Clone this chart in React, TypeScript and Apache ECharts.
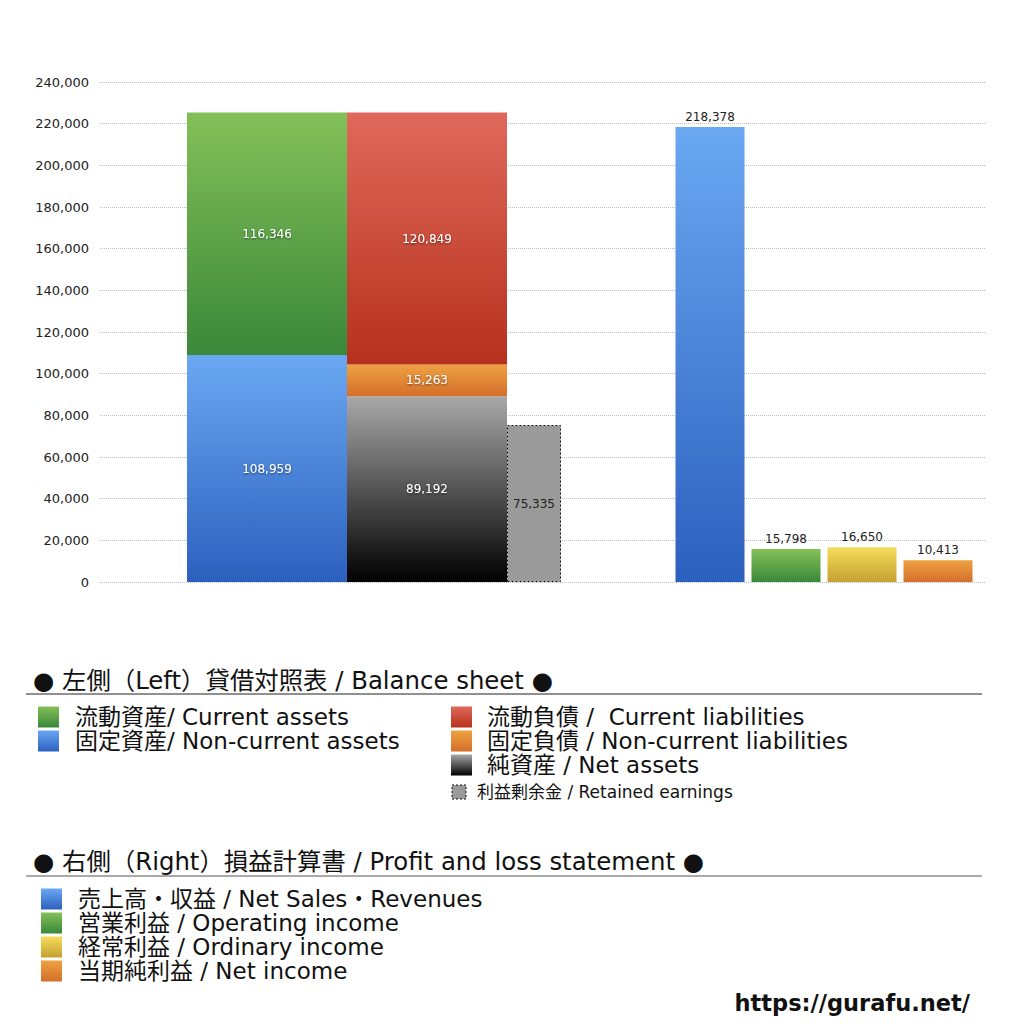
import React, { useEffect, useRef } from 'react';
import * as echarts from 'echarts';

const FONT = '"DejaVu Sans", "Noto Sans CJK JP", sans-serif';

// Left: balance sheet (stacked columns)
const bsSeriesNames = [
  '固定資産/ Non-current assets',
  '流動資産/ Current assets',
  '純資産 / Net assets',
  '固定負債 / Non-current liabilities',
  '流動負債 / Current liabilities',
  '利益剰余金 / Retained earnings',
];
const bsValues = [108959, 116346, 89192, 15263, 120849, 75335];
const bsStacks = ['assets', 'assets', 'liabilities', 'liabilities', 'liabilities', 'retained'];

// Right: profit and loss
const plCategories = ['売上高・収益', '営業利益', '経常利益', '当期純利益'];
const plValues = [218378, 15798, 16650, 10413];

// Legend texts
const bsLegendLeft = ['流動資産/ Current assets', '固定資産/ Non-current assets'];
const bsLegendRight = ['流動負債 /  Current liabilities', '固定負債 / Non-current liabilities', '純資産 / Net assets'];
const retainedLegend = '利益剰余金 / Retained earnings';
const plLegend = [
  '売上高・収益 / Net Sales・Revenues',
  '営業利益 / Operating income',
  '経常利益 / Ordinary income',
  '当期純利益 / Net income',
];
const bsTitle = '● 左側（Left）貸借対照表 / Balance sheet ●';
const plTitle = '● 右側（Right）損益計算書 / Profit and loss statement ●';
const siteUrl = 'https://gurafu.net/';

// gradient colour pairs (top, bottom)
const BLUE: [string, string] = ['#6aa8f2', '#2c60be'];
const GREEN: [string, string] = ['#84c058', '#3a883a'];
const RED: [string, string] = ['#e0695b', '#b6311c'];
const ORANGE: [string, string] = ['#eea242', '#d46e2a'];
const BLACK: [string, string] = ['#a8a8a8', '#000000'];
const YELLOW: [string, string] = ['#f5dc5a', '#c6a032'];

const bsColors = [BLUE, GREEN, BLACK, ORANGE, RED, null];
const plColors = [BLUE, GREEN, YELLOW, ORANGE];

const grad = (c: [string, string]) =>
  new echarts.graphic.LinearGradient(0, 0, 0, 1, [
    { offset: 0, color: c[0] },
    { offset: 1, color: c[1] },
  ]);

const fmt = (v: number) => v.toLocaleString('en-US');

const App: React.FC = () => {
  const chartRef = useRef<HTMLDivElement>(null);

  useEffect(() => {
    if (!chartRef.current) return;
    const chart = echarts.init(chartRef.current, undefined, { renderer: 'svg' });

    const hiddenY = (gridIndex: number) => ({
      gridIndex,
      type: 'value',
      min: 0,
      max: 240000,
      show: false,
      splitLine: { show: false },
    });

    const bsSeries = bsValues.map((v, i) => {
      const retained = bsColors[i] === null;
      return {
        name: bsSeriesNames[i],
        type: 'bar',
        xAxisIndex: 1,
        yAxisIndex: 1,
        stack: bsStacks[i],
        barWidth: retained ? 54 : 160,
        barGap: '0%',
        data: [v],
        itemStyle: retained
          ? { color: '#9a9a9a', borderColor: '#111', borderWidth: 1, borderType: [2, 2] }
          : { color: grad(bsColors[i] as [string, string]) },
        label: {
          show: true,
          position: 'inside',
          formatter: (p: any) => fmt(p.value),
          fontFamily: FONT,
          fontSize: 12,
          color: retained ? '#222' : '#fff',
          textBorderWidth: 0,
          textShadowColor: retained ? 'transparent' : 'rgba(0,0,0,0.55)',
          textShadowBlur: retained ? 0 : 2,
          textShadowOffsetY: retained ? 0 : 1,
        },
      };
    });

    const plSeries = {
      name: '損益計算書',
      type: 'bar',
      xAxisIndex: 2,
      yAxisIndex: 2,
      barWidth: 69,
      data: plValues.map((v, i) => ({ value: v, itemStyle: { color: grad(plColors[i]) } })),
      label: {
        show: true,
        position: 'top',
        distance: 4,
        formatter: (p: any) => fmt(p.value),
        fontFamily: FONT,
        fontSize: 12,
        color: '#222',
      },
    };

    // custom legend
    const graphics: any[] = [];
    const text = (x: number, y: number, t: string, size: number, extra: any = {}) => ({
      type: 'text',
      x,
      y,
      style: {
        text: t,
        fontSize: size,
        lineHeight: Math.min(size, 23),
        fontFamily: FONT,
        fill: '#111',
        textVerticalAlign: 'middle',
        ...extra,
      },
    });
    const swatch = (x: number, y: number, s: number, c: [string, string]) => ({
      type: 'rect',
      shape: { x, y: y - s / 2, width: s, height: s },
      style: { fill: grad(c) },
    });

    graphics.push(text(33, 680, bsTitle, 24.4));
    graphics.push({ type: 'line', shape: { x1: 26, y1: 694, x2: 982, y2: 694 }, style: { stroke: '#222', lineWidth: 1 } });
    bsLegendLeft.forEach((t, i) => {
      graphics.push(swatch(38, 717 + i * 24, 21, i === 0 ? GREEN : BLUE));
      graphics.push(text(75, 717 + i * 24, t, 23));
    });
    bsLegendRight.forEach((t, i) => {
      graphics.push(swatch(451, 717 + i * 24, 21, [RED, ORANGE, BLACK][i]));
      graphics.push(text(487, 717 + i * 24, t, 23));
    });
    graphics.push({
      type: 'rect',
      shape: { x: 452, y: 785, width: 14, height: 14 },
      style: { fill: '#9a9a9a', stroke: '#111', lineWidth: 1, lineDash: [2, 2] },
    });
    graphics.push(text(477, 792, retainedLegend, 17));

    graphics.push(text(33, 861, plTitle, 24.4));
    graphics.push({ type: 'line', shape: { x1: 26, y1: 876, x2: 982, y2: 876 }, style: { stroke: '#555', lineWidth: 1 } });
    plLegend.forEach((t, i) => {
      graphics.push(swatch(41, 899 + i * 24, 21, plColors[i]));
      graphics.push(text(78, 899 + i * 24, t, 23));
    });
    graphics.push(text(970, 1003, siteUrl, 22.5, { fontWeight: 'bold', textAlign: 'right' }));

    chart.setOption({
      animation: false,
      backgroundColor: '#fff',
      textStyle: { fontFamily: FONT },
      grid: [
        { left: 100, top: 82, width: 885, height: 500 },
        { left: 187, top: 82, width: 374, height: 500 },
        { left: 672, top: 82, width: 304, height: 500 },
      ],
      xAxis: [
        { gridIndex: 0, type: 'category', data: [''], show: false },
        { gridIndex: 1, type: 'category', data: ['貸借対照表'], show: false },
        { gridIndex: 2, type: 'category', data: plCategories, show: false },
      ],
      yAxis: [
        {
          gridIndex: 0,
          type: 'value',
          min: 0,
          max: 240000,
          interval: 20000,
          axisLine: { show: false },
          axisTick: { show: false },
          axisLabel: {
            formatter: (v: number) => fmt(v),
            fontFamily: FONT,
            fontSize: 13,
            color: '#222',
            margin: 11,
          },
          splitLine: { lineStyle: { type: 'dotted', color: '#bdbdbd', width: 1 } },
        },
        hiddenY(1),
        hiddenY(2),
      ],
      series: [...bsSeries, plSeries],
      graphic: graphics,
    });

    return () => {
      chart.dispose();
    };
  }, []);

  return (
    <div
      ref={chartRef}
      style={{ position: 'absolute', left: 0, top: 0, width: '1024px', height: '1024px' }}
    />
  );
};

export default App;
